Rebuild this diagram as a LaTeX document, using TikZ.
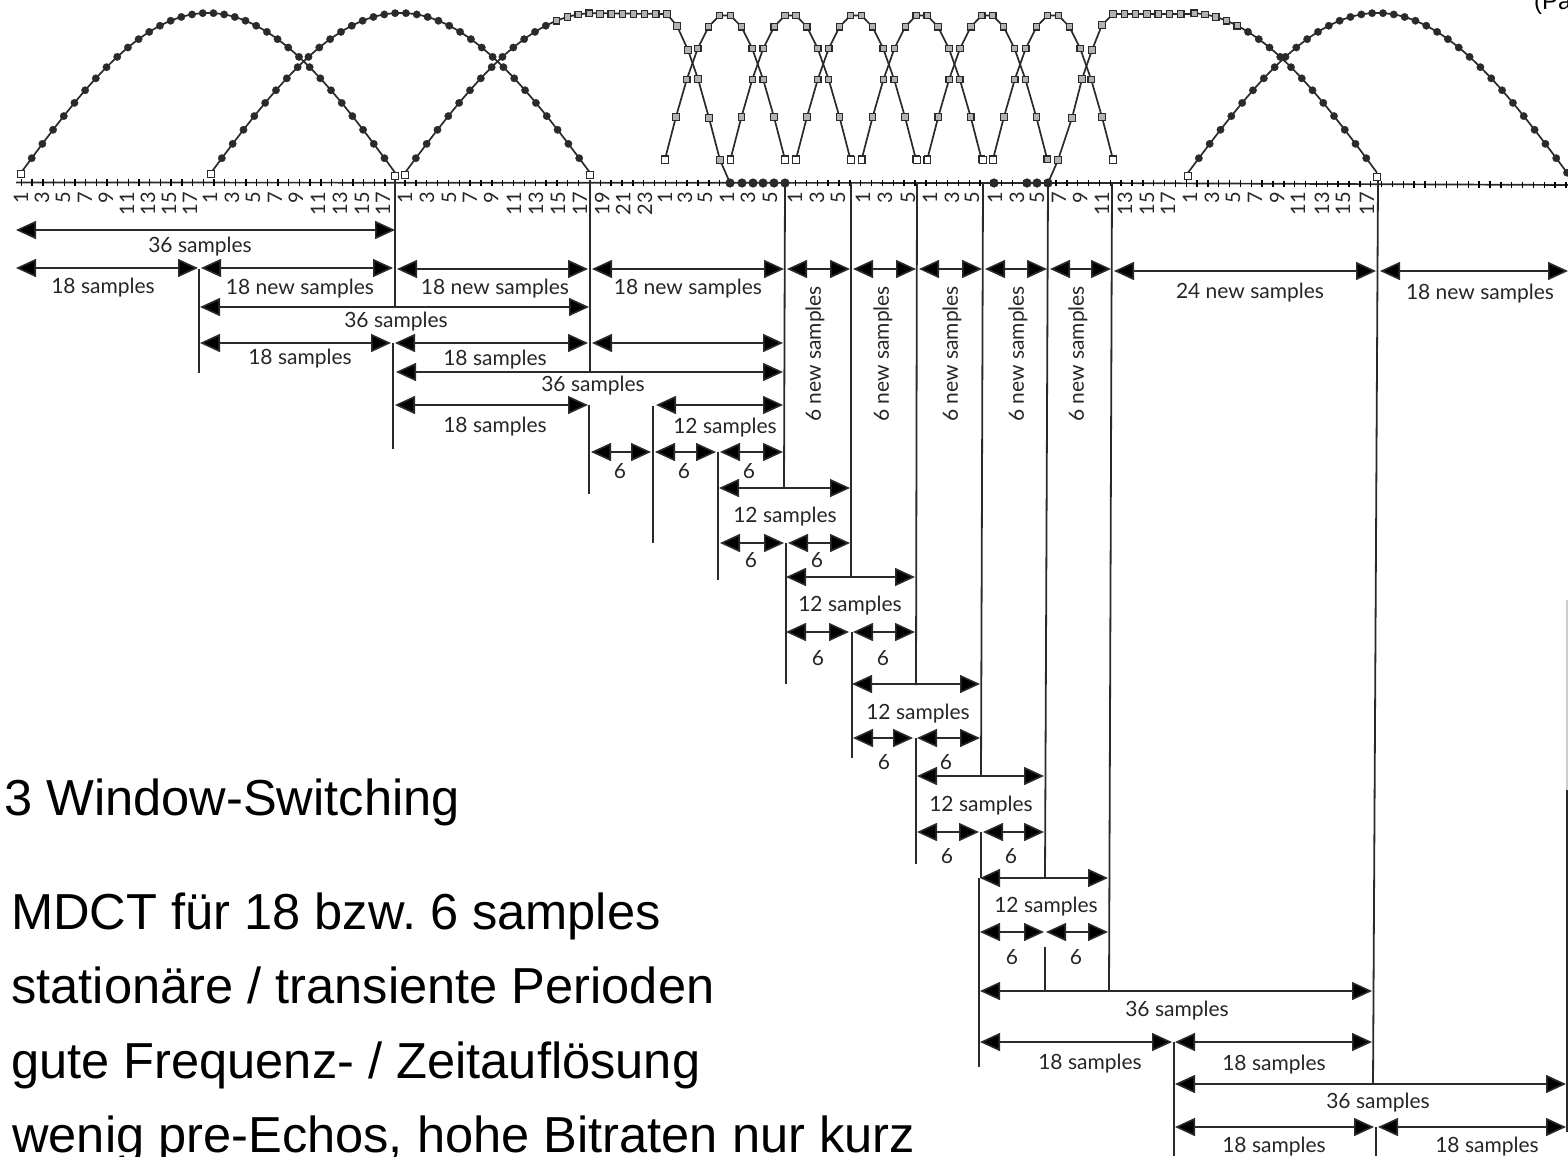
\documentclass[tikz,border=0pt]{standalone}
\usepackage{fontspec}
\setmainfont{Liberation Sans}
\newfontfamily\labfont{Lato}
\usetikzlibrary{arrows.meta,plotmarks}
\definecolor{ink}{HTML}{2A2A2A}
\frenchspacing
\tikzset{
  dimline/.style={draw=ink,line width=1.6pt,{Triangle[length=20pt,width=18pt,fill=black]}-{Triangle[length=20pt,width=18pt,fill=black]}},
  vertline/.style={draw=ink,line width=1.8pt},
  faintline/.style={draw=gray!40,line width=1.2pt},
  samplabel/.style={text=black!85,font=\labfont\fontsize{21}{23}\selectfont,inner sep=0pt},
  numlabel/.style={text=black!85,font=\labfont\fontsize{20}{22}\selectfont,inner sep=0pt,rotate=90,anchor=east},
  bigtext/.style={text=black,font=\fontsize{50.6}{56}\selectfont,inner sep=0pt,anchor=base west},
  curve/.style={draw=ink,line width=1.7pt},
  longpts/.style={ink,only marks,mark=*,mark size=3.7pt,mark options={fill=ink,draw=ink,line width=.3pt}},
  shortpts/.style={ink,only marks,mark=square*,mark size=3.2pt,mark options={fill=gray!60,draw=ink,line width=1.2pt}},
  openpts/.style={ink,only marks,mark=square*,mark size=3.3pt,mark options={fill=white,draw=ink,line width=1.2pt}},
  axisticks/.style={ink,only marks,mark=|,mark size=3.2pt,mark options={line width=1.4pt}},
}
\newcounter{itemn}
% arrow between two named coordinates: x1, x2, y
\newcommand{\dimarr}[3]{\stepcounter{itemn}%
  \coordinate (a\theitemn) at (#1,#3);\coordinate (b\theitemn) at (#2,#3);\draw[dimline] (a\theitemn) -- (b\theitemn);}
% vertical line between two named coordinates: x1,y1,x2,y2
\newcommand{\vertl}[4]{\stepcounter{itemn}%
  \coordinate (t\theitemn) at (#1,#2);\coordinate (u\theitemn) at (#3,#4);\draw[vertline] (t\theitemn) -- (u\theitemn);}
\newcommand{\slab}[3]{\stepcounter{itemn}\node[samplabel,yshift=-2pt] (l\theitemn) at (#1,#2) {#3};}
\newcommand{\sixlab}[2]{\stepcounter{itemn}\node[samplabel] (l\theitemn) at (#1,#2) {6};}
\newcommand{\rlab}[1]{\stepcounter{itemn}\node[samplabel,rotate=90] (l\theitemn) at (#1,354) {6 new samples};}
\newcommand{\nums}[1]{\foreach \px/\pn in {#1}{\node[numlabel] at (\px,192) {\pn};}}
\newcommand{\sq}[2]{\path[draw=ink,fill=gray!60,line width=1.2pt] (#1-3.2,#2-3.2) rectangle (#1+3.2,#2+3.2);}
\begin{document}
\begin{tikzpicture}[x=1pt,y=-1pt]
\useasboundingbox[fill=white] (0,0) rectangle (1568,1156);
% --- axis
\draw[curve] (16,182.5) -- (1100,183) -- (1568,185);
\draw plot[axisticks,domain=0:35,samples=36] ({21.5+10.69*\x},182.5);
\draw plot[axisticks,domain=0:107,samples=108] ({405+10.85*\x},{183+max(0,405+10.85*\x-1100)*0.0043});
\foreach \dx in {730,742,753,763,774,785,994,1027,1037,1048}{\fill[ink] (\dx,183) circle (4.6);}
% --- long windows
\draw[curve] plot[smooth,domain=1:36,samples=36] ({21+10.69*(\x-1)},{180-167*sin(5*(\x-.5))});
\draw plot[longpts,domain=2:35,samples=34] ({21+10.69*(\x-1)},{180-167*sin(5*(\x-.5))});
\draw[curve] plot[smooth,domain=1:36,samples=36] ({211+10.83*(\x-1)},{180-167*sin(5*(\x-.5))});
\draw plot[longpts,domain=2:35,samples=34] ({211+10.83*(\x-1)},{180-167*sin(5*(\x-.5))});
% start window
\draw[curve] plot[smooth,domain=1:18,samples=18] ({405+10.83*(\x-1)},{180-167*sin(5*(\x-.5))}) -- (667,14) -- (677,26) -- (688,50) -- (698,79) -- (709,118) -- (720,160) -- (730,183);
\draw plot[longpts,domain=2:14,samples=13] ({405+10.83*(\x-1)},{180-167*sin(5*(\x-.5))});
\draw plot[shortpts,domain=15:18,samples=4] ({405+10.83*(\x-1)},{180-167*sin(5*(\x-.5))});
\draw plot[shortpts,domain=0:6,samples=7] ({600+11.17*\x},14);
\foreach \qx/\qy in {677/26,688/50,698/79,709/118,720/160}{\sq{\qx}{\qy}}
% short windows
\foreach \sx in {665,730.5,796,861.7,927.3,993}{
  \draw[curve] plot[domain=1:12,samples=12] ({\sx+10.9*(\x-1)},{181-167*sin(15*(\x-.5))});
  \draw plot[shortpts,domain=1:12,samples=12] ({\sx+10.9*(\x-1)},{181-167*sin(15*(\x-.5))});
}
% stop window
\draw[curve] (1048,183) -- (1058,160) -- (1072,118) -- (1082,79) -- (1092,50) -- (1102,25) -- (1113,14) -- (1194,14) -- plot[smooth,domain=19:36,samples=18] ({1377-(36-\x)*10.75},{180-167*sin(5*(\x-.5))});
\foreach \qx/\qy in {1058/160,1072/118,1082/79,1092/50,1102/25}{\sq{\qx}{\qy}}
\draw plot[shortpts,domain=0:6,samples=7] ({1113+11.3*\x},14);
\draw plot[shortpts,domain=19:23,samples=5] ({1377-(36-\x)*10.75},{180-167*sin(5*(\x-.5))});
\draw plot[longpts,domain=24:35,samples=12] ({1377-(36-\x)*10.75},{180-167*sin(5*(\x-.5))});
% last window
\draw[curve] plot[smooth,domain=1:36,samples=36] ({1188+10.83*(\x-1)},{180-167*sin(5*(\x-.5))});
\draw plot[longpts,domain=2:36,samples=35] ({1188+10.83*(\x-1)},{180-167*sin(5*(\x-.5))});
\draw plot[openpts] coordinates {(21,174) (211,174) (395,176) (405,175) (590,175) (1188,176) (1377,177)};
\draw plot[openpts] coordinates {(665,160) (1113,160)};
\draw plot[openpts] coordinates {(730.5,160) (785,160) (796,160) (851,160) (861.7,160) (917,160) (927.3,160) (983,160) (993,160)};
% --- number row
\nums{21/1,42/3,63/5,85/7,106/9,127/11,148/13,169/15,190/17,
      210/1,232/3,253/5,275/7,296/9,318/11,340/13,362/15,383/17,
      405/1,427/3,449/5,470/7,491/9,514/11,536/13,558/15,580/17,602/19,623/21,645/23,
      665/1,685/3,705/5,727/1,748/3,770/5,795/1,817/3,838/5,863/1,885/3,908/5,930/1,952/3,972/5,
      995/1,1017/3,1037/5,1059/7,1080/9,1102/11,1125/13,1147/15,1168/17,
      1190/1,1212/3,1233/5,1255/7,1277/9,1298/11,1322/13,1343/15,1367/17}
% --- vertical lines
\vertl{395}{180}{395}{307}
\vertl{199}{269}{199}{373}
\vertl{590}{180}{590}{372}
\vertl{393}{343}{393}{449}
\vertl{589}{405}{589}{494}
\vertl{653}{406}{653}{543}
\vertl{718}{452}{718}{580}
\vertl{785}{183}{784}{488}
\vertl{851}{183}{851}{577}
\vertl{786}{543}{786}{684}
\vertl{917}{183}{916}{685}
\vertl{852}{632}{852}{758}
\vertl{983}{183}{981}{776}
\vertl{916}{738}{916}{864}
\vertl{1048}{183}{1045}{878}
\vertl{981}{832}{981}{878}
\vertl{979}{878}{979}{1067}
\vertl{1112}{183}{1109}{991}
\vertl{1045}{947}{1045}{991}
\vertl{1378}{180}{1373}{1084}
\vertl{1174}{1042}{1174}{1156}
\vertl{1376}{1127}{1376}{1156}
\vertl{1567}{790}{1567}{1132}
\coordinate (faintA) at (1567,600);\coordinate (faintB) at (1567,790);\draw[faintline] (faintA) -- (faintB);
% --- arrows and labels
\dimarr{16}{395}{230}\slab{200}{245}{36 samples}
\dimarr{16}{198}{268}\slab{103}{286}{18 samples}
\dimarr{201}{393}{268}\slab{300}{287}{18 new samples}
\dimarr{397}{588}{269}\slab{495}{287}{18 new samples}
\dimarr{592}{784}{269}\slab{688}{287}{18 new samples}
\dimarr{787}{850}{269}\dimarr{853}{916}{269}\dimarr{919}{982}{269}\dimarr{985}{1047}{269}\dimarr{1050}{1111}{269}
\rlab{815}\rlab{883}\rlab{952}\rlab{1018}\rlab{1078}
\dimarr{1114}{1376}{271}\slab{1250}{291}{24 new samples}
\dimarr{1380}{1568}{271}\slab{1480}{292}{18 new samples}
\dimarr{200}{589}{307}\slab{396}{320}{36 samples}
\dimarr{200}{391}{343}\slab{300}{357}{18 samples}
\dimarr{395}{588}{343}\slab{495}{358}{18 samples}
\dimarr{592}{783}{343}
\dimarr{396}{783}{372}\slab{593}{384}{36 samples}
\dimarr{395}{588}{405}\slab{495}{425}{18 samples}
\dimarr{656}{783}{405}\slab{725}{426}{12 samples}
\dimarr{591}{651}{452}\sixlab{620}{471}
\dimarr{655}{716}{452}\sixlab{684}{471}
\dimarr{720}{783}{452}\sixlab{749}{471}
\dimarr{719}{850}{488}\slab{785}{515}{12 samples}
\dimarr{720}{784}{543}\sixlab{751}{560}
\dimarr{788}{850}{543}\sixlab{817}{560}
\dimarr{786}{915}{577}\slab{850}{604}{12 samples}
\dimarr{786}{849}{632}\sixlab{818}{658}
\dimarr{853}{915}{632}\sixlab{883}{658}
\dimarr{852}{980}{684}\slab{918}{712}{12 samples}
\dimarr{853}{913}{738}\sixlab{884}{762}
\dimarr{917}{980}{738}\sixlab{946}{762}
\dimarr{917}{1044}{776}\slab{981}{804}{12 samples}
\dimarr{917}{979}{832}\sixlab{947}{856}
\dimarr{983}{1044}{832}\sixlab{1011}{856}
\dimarr{980}{1108}{878}\slab{1046}{905}{12 samples}
\dimarr{980}{1044}{932}\sixlab{1012}{957}
\dimarr{1046}{1108}{932}\sixlab{1076}{957}
\dimarr{980}{1372}{991}\slab{1177}{1009}{36 samples}
\dimarr{980}{1172}{1042}\slab{1090}{1062}{18 samples}
\dimarr{1175}{1372}{1042}\slab{1274}{1063}{18 samples}
\dimarr{1175}{1566}{1084}\slab{1378}{1101}{36 samples}
\dimarr{1175}{1374}{1127}\slab{1274}{1144.5}{18 samples}
\dimarr{1378}{1566}{1127}\slab{1487}{1144.5}{18 samples}
% --- text
\node[bigtext] (title) at (4,815) {3 Window-Switching};
\node[bigtext] (line1) at (11,929) {MDCT für 18 bzw. 6 samples};
\node[bigtext] (line2) at (11,1003) {stationäre / transiente Perioden};
\node[bigtext] (line3) at (11,1078) {gute Frequenz- / Zeitauflösung};
\node[bigtext] (line4) at (12,1152) {wenig pre-Echos, hohe Bitraten nur kurz};
\node[bigtext,font=\fontsize{24}{26}\selectfont] (corner) at (1534,10) {(Pa};
\end{tikzpicture}
\end{document}
